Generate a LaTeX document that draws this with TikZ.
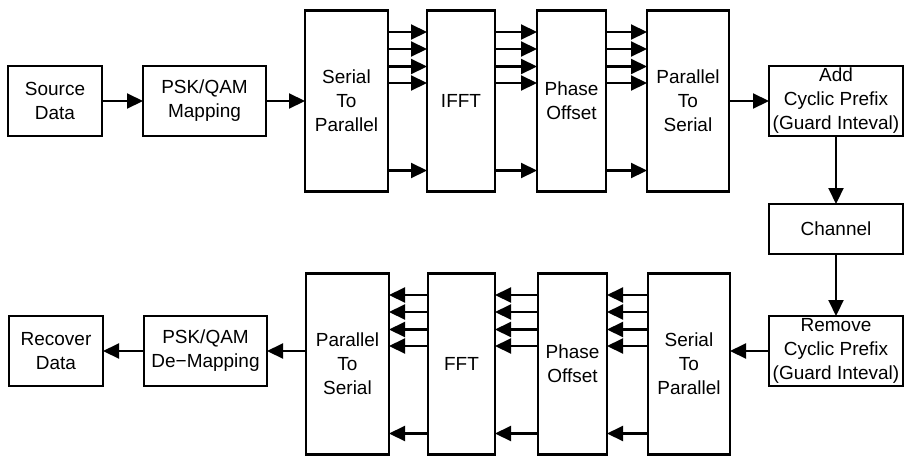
\documentclass[tikz,border=0pt]{standalone}
\usepackage{fontspec}
\setmainfont{Liberation Sans}
\usetikzlibrary{arrows.meta,positioning}

\begin{document}
\begin{tikzpicture}[
  blk/.style={rectangle, draw, line width=1.3pt, align=center, inner sep=1pt,
              outer sep=0pt, minimum height=1.4cm,
              font=\fontsize{10.8}{13.7}\selectfont},
  tall/.style={blk, minimum height=3.62cm},
  arr/.style={line width=1.2pt, -{Triangle[length=0.32cm,width=0.3cm]}}
]
  \useasboundingbox (0,0) rectangle (18.1,-9.12);

  % transmitter
  \node[blk, minimum width=1.88cm] (src) at (1.1,-2.02) {Source\\Data};
  \node[blk, minimum width=2.46cm, right=0.82cm of src] (map) {PSK/QAM\\Mapping};
  \node[tall, minimum width=1.66cm, right=0.78cm of map] (sp) {Serial\\To\\Parallel};
  \node[tall, minimum width=1.36cm, right=0.78cm of sp] (ifft) {IFFT};
  \node[tall, minimum width=1.38cm, right=0.84cm of ifft] (po) {Phase\\Offset};
  \node[tall, minimum width=1.64cm, right=0.82cm of po] (ps) {Parallel\\To\\Serial};
  \node[blk, minimum width=2.68cm, right=0.8cm of ps] (addcp) {Add\\Cyclic Prefix\\(Guard Inteval)};

  % channel
  \node[blk, minimum width=2.68cm, minimum height=1.0cm, below=1.36cm of addcp] (chan) {Channel};
  \node[blk, minimum width=2.68cm, below=1.24cm of chan] (rmcp) {Remove\\Cyclic Prefix\\(Guard Inteval)};

  % receiver
  \node[tall, minimum width=1.64cm, left=0.78cm of rmcp, yshift=-0.26cm] (sp2) {Serial\\To\\Parallel};
  \node[tall, minimum width=1.38cm, left=0.82cm of sp2] (po2) {Phase\\Offset};
  \node[tall, minimum width=1.34cm, left=0.86cm of po2] (fft) {FFT};
  \node[tall, minimum width=1.66cm, left=0.78cm of fft] (ps2) {Parallel\\To\\Serial};
  \node[blk, minimum width=2.46cm, left=0.78cm of ps2, yshift=0.26cm] (demap) {PSK/QAM\\De−Mapping};
  \node[blk, minimum width=1.88cm, left=0.82cm of demap] (rec) {Recover\\Data};

  % connectors
  \draw[arr] (src) -- (map);
  \draw[arr] (map) -- (sp);
  \foreach \a/\b in {sp/ifft, ifft/po, po/ps}
    \foreach \d in {0.43,0.77,1.12,1.45,3.2}
      \draw[arr] ([yshift=-\d cm]\a.north east) -- ([yshift=-\d cm]\b.north west);
  \draw[arr] (ps) -- (addcp);
  \draw[arr] (addcp) -- (chan);
  \draw[arr] (chan) -- (rmcp);
  \draw[arr] (rmcp.west) -- (rmcp.west -| sp2.east);
  \foreach \a/\b in {sp2/po2, po2/fft, fft/ps2}
    \foreach \d in {0.43,0.77,1.12,1.45,3.2}
      \draw[arr] ([yshift=-\d cm]\a.north west) -- ([yshift=-\d cm]\b.north east);
  \draw[arr] (demap.east -| ps2.west) -- (demap.east);
  \draw[arr] (demap) -- (rec);
\end{tikzpicture}
\end{document}
